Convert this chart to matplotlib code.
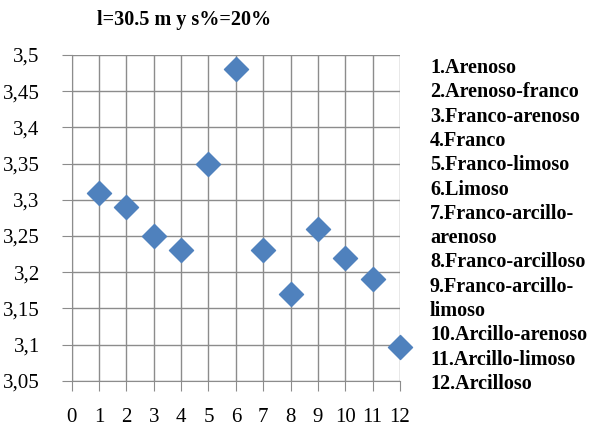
import matplotlib.pyplot as plt
import numpy as np

# soil texture classes and values
clases = ["1.Arenoso", "2.Arenoso-franco", "3.Franco-arenoso", "4.Franco",
          "5.Franco-limoso", "6.Limoso", "7.Franco-arcillo-\narenoso",
          "8.Franco-arcilloso", "9.Franco-arcillo-\nlimoso",
          "10.Arcillo-arenoso", "11.Arcillo-limoso", "12.Arcilloso"]
x = [1, 2, 3, 4, 5, 6, 7, 8, 9, 10, 11, 12]
y = [3.31, 3.29, 3.25, 3.23, 3.35, 3.48, 3.23, 3.17, 3.26, 3.22, 3.19, 3.096]
yticks = [3.05, 3.1, 3.15, 3.2, 3.25, 3.3, 3.35, 3.4, 3.45, 3.5]

plt.rcParams['font.family'] = ['Liberation Serif', 'DejaVu Serif']

fig = plt.figure(figsize=(6.06, 4.28), dpi=100)
W, H = 606, 428
ax = fig.add_axes([71.7 / W, 1 - 380.7 / H, (400 - 71.7) / W, (380.7 - 55) / H])

gc = '#8c8c8c'
ax.set_xlim(0, 12)
ax.set_ylim(3.05, 3.5)
ax.set_xticks(range(0, 13))
ax.set_yticks(yticks)
ax.set_yticklabels([('%g' % v).replace('.', ',') for v in yticks])
ax.grid(True, color=gc, linewidth=1)
ax.set_axisbelow(True)
for s in ['top', 'right']:
    ax.spines[s].set_visible(False)
for s in ['left', 'bottom']:
    ax.spines[s].set_color(gc)
ax.tick_params(axis='both', direction='out', length=7, color=gc, labelsize=15)
ax.tick_params(axis='x', pad=13)
ax.tick_params(axis='y', pad=16)

ax.scatter(x, y, marker='D', s=150, color='#4f81bd', zorder=3, clip_on=False)

fig.text(97 / W, 1 - 20 / H, "l=30.5 m y s%=20%", fontsize=14.5, fontweight='bold',
         va='center', ha='left')

# legend as plain text lines
lines = "\n".join(clases).split("\n")
for i, t in enumerate(lines):
    fig.text(430 / W, 1 - (68 + i * 24.3) / H, t, fontsize=14.5, fontweight='bold',
             va='center', ha='left')

fig.savefig('out.png', dpi=100)
